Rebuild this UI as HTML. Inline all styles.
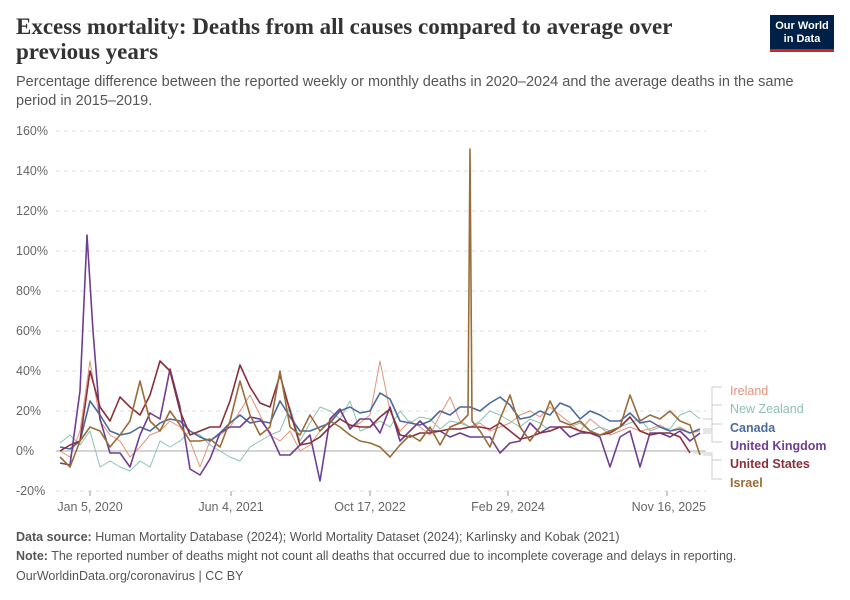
<!DOCTYPE html>
<html><head><meta charset="utf-8"><style>
body{margin:0;background:#fff;font-family:"Liberation Sans",sans-serif;}
#wrap{position:relative;width:850px;height:600px;overflow:hidden;}
.t{position:absolute;white-space:nowrap;}
</style></head><body>
<div id="wrap">
<div class="t" style="left:16px;top:14px;font-family:'Liberation Serif',serif;font-weight:bold;font-size:23px;line-height:25px;color:#333;">Excess mortality: Deaths from all causes compared to average over<br>previous years</div>
<div class="t" style="left:16px;top:73px;font-size:14.5px;line-height:19px;color:#555;">Percentage difference between the reported weekly or monthly deaths in 2020–2024 and the average deaths in the same<br>period in 2015–2019.</div>
<div style="position:absolute;left:770px;top:15px;width:64px;height:37px;background:#002147;border-bottom:3px solid #ce261e;box-sizing:border-box;color:#fff;font-size:11px;line-height:13px;text-align:center;padding-top:5px;font-weight:bold;">Our World<br>in Data</div>
<svg id="chart" width="850" height="600" style="position:absolute;left:0;top:0"></svg>
<div class="t" style="left:16px;top:530px;font-size:12.5px;color:#555;"><b>Data source:</b> Human Mortality Database (2024); World Mortality Dataset (2024); Karlinsky and Kobak (2021)</div>
<div class="t" style="left:16px;top:549px;font-size:12.5px;color:#555;"><b>Note:</b> The reported number of deaths might not count all deaths that occurred due to incomplete coverage and delays in reporting.</div>
<div class="t" style="left:16px;top:569px;font-size:12.5px;color:#555;">OurWorldinData.org/coronavirus | CC BY</div>
</div>
<script>
const yTicks=[-20,0,20,40,60,80,100,120,140,160];
const xTickLabels=["Jan 5, 2020","Jun 4, 2021","Oct 17, 2022","Feb 29, 2024","Nov 16, 2025"];
const xTickIdx=[3,17.1,31,44.8,60.7];
const seriesNames=["Ireland","New Zealand","Canada","United Kingdom","United States","Israel"];
const ireland=[0,-3,10,45,15,8,5,-3,2,8,10,15,12,5,-8,5,8,12,20,28,18,8,5,10,0,3,10,15,20,12,14,18,45,20,10,15,12,8,18,27,15,12,14,10,12,14,18,20,17,22,18,14,10,16,12,8,10,12,10,11,13,10,12,9,10];
const newZealand=[4,8,3,10,-8,-5,-8,-10,-5,-8,5,2,5,10,8,3,0,-3,-5,2,5,8,10,22,5,14,22,20,16,25,10,12,15,12,20,14,17,16,11,15,14,12,15,20,18,15,12,16,14,10,12,12,14,10,12,10,12,14,16,10,12,11,18,20,16];
const canada=[2,1,5,25,18,10,8,9,12,10,14,16,15,10,7,5,9,14,18,14,15,14,25,17,10,10,12,14,20,22,19,20,29,26,15,14,13,15,20,18,22,22,20,24,27,23,16,17,20,18,24,22,16,20,18,15,15,19,14,15,12,10,11,9,11];
const ukIdx=[0,1,2,2.7,3.3,4,5,6,7,8,9,10,11,12,13,14,15,16,17,18,19,20,21,22,23,24,25,26,27,28,29,30,31,32,33,34,35,36,37,38,39,40,41,42,43,44,45,46,47,48,49,50,51,52,53,54,55,56,57,58,59,60,61,62,63,64];
const unitedKingdom=[-6,-7,30,108,60,16,-1,-1,-8,8,19,16,41,22,-9,-12,-4,9,12,12,17,16,9,-2,-2,3,8,-15,16,21,11,16,16,9,22,5,10,15,10,10,7,9,7,7,7,-1,4,5,14,9,12,12,7,9,9,7,-8,7,10,-8,9,9,7,10,5,9];
const unitedStates=[0,3,5,40,22,15,27,22,18,28,45,40,20,8,10,12,12,25,43,32,24,22,38,20,3,4,7,12,16,13,12,12,17,21,8,7,9,9,10,11,11,12,12,11,14,10,6,7,9,10,12,12,10,9,8,9,12,17,10,8,9,9,7,-1];
const israelIdx=[0,1,2,3,4,5,6,7,8,9,10,11,12,13,14,15,16,17,18,19,20,21,22,23,24,25,26,27,28,29,30,31,32,33,34,35,36,37,38,39,40,40.8,41,41.2,42,43,44,45,46,47,48,49,50,51,52,53,54,55,56,57,58,59,60,61,62,63,64];
const israel=[-3,-8,5,12,10,2,8,15,35,15,10,20,13,5,5,6,2,15,35,18,8,12,40,12,8,18,10,15,12,8,5,4,2,-3,3,8,5,12,3,12,14,18,151,15,10,2,16,28,12,5,12,25,15,13,15,10,8,10,12,28,15,18,16,20,15,13,-2];
const colors=["#e2927a","#8cc2b2","#4c6a9c","#6d3e91","#883039","#996d39"];
const widths=[1,1,1.6,1.6,1.6,1.6];
const labelY=[391,409,428,446,464,483];
const allSeries=[ireland,newZealand,canada,unitedKingdom,unitedStates,israel];
const allIdx=[null,null,null,ukIdx,null,israelIdx];
const NS="http://www.w3.org/2000/svg";
const svg=document.getElementById('chart');
const x=i=>60+i*10;
const y=v=>451-(v*2);
function mk(tag,attrs){const e=document.createElementNS(NS,tag);for(const k in attrs)e.setAttribute(k,attrs[k]);svg.appendChild(e);return e;}
yTicks.forEach(v=>{
  const l=mk('line',{x1:56,x2:706,y1:y(v),y2:y(v),stroke:v===0?'#aaa':'#ddd','stroke-dasharray':v===0?'none':'4,4','stroke-width':1});
  
  
  const t=mk('text',{x:16,y:y(v)+4,'font-size':12.5,fill:'#666','font-family':'Liberation Sans, sans-serif'});
  t.textContent=v+'%';
  
  
});
xTickLabels.forEach((s,k)=>{
  const px=x(xTickIdx[k]);
  const tk=mk('line',{x1:px,x2:px,y1:491,y2:496,stroke:'#999'});
  
  
  const anchor=k===xTickLabels.length-1?'end':'middle';
  const t=mk('text',{x:k===xTickLabels.length-1?706:px,y:511,'font-size':12.5,fill:'#666','text-anchor':anchor,'font-family':'Liberation Sans, sans-serif'});
  t.textContent=s;
  
  
});
allSeries.forEach((arr,s)=>{
  const idx=allIdx[s];
  let d='',lastX=0,lastV=0;
  arr.forEach((v,i)=>{const xi=idx?idx[i]:i;d+=(i?'L':'M')+x(xi)+','+y(v);lastX=x(xi);lastV=v;});
  const p=mk('path',{d:d,fill:'none',stroke:colors[s],'stroke-width':widths[s],'stroke-linejoin':'round'});
  
  
  const c=mk('path',{d:'M'+(lastX+3)+','+y(lastV)+'H712V'+(labelY[s]-4)+'H722',fill:'none',stroke:'#ccc','stroke-width':1});
  
  
  const t=mk('text',{x:730,y:labelY[s]+4,'font-size':12.5,fill:colors[s],'font-weight':s>=2?'bold':'normal','font-family':'Liberation Sans, sans-serif'});
  t.textContent=seriesNames[s];
  
  
});
</script>
</body></html>
